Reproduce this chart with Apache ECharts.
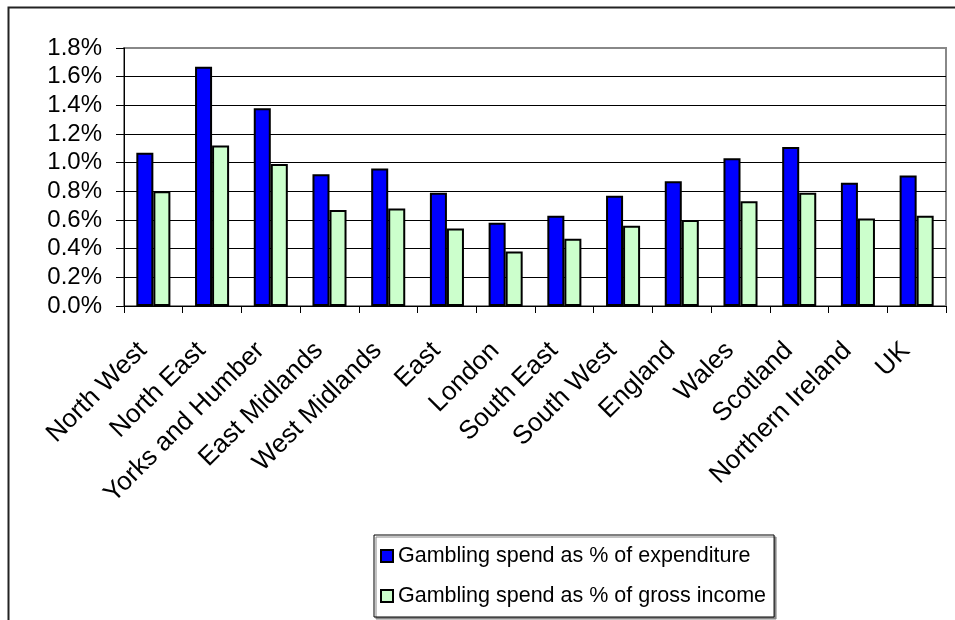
<!DOCTYPE html>
<html>
<head>
<meta charset="utf-8">
<script src="https://cdn.jsdelivr.net/npm/echarts@6/dist/echarts.min.js"></script>
<style>
html,body{margin:0;padding:0;background:#fff;}
#chart{width:955px;height:620px;}
</style>
</head>
<body>
<div id="chart"></div>
<script>
var categories = ["North West","North East","Yorks and Humber","East Midlands","West Midlands","East","London","South East","South West","England","Wales","Scotland","Northern Ireland","UK"];
var expenditure = [1.07,1.67,1.38,0.92,0.96,0.79,0.58,0.63,0.77,0.87,1.03,1.11,0.86,0.91];
var grossIncome = [0.80,1.12,0.99,0.67,0.68,0.54,0.38,0.47,0.56,0.60,0.73,0.79,0.61,0.63];
var seriesNames = ["Gambling spend as % of expenditure","Gambling spend as % of gross income"];

var FONT = "'Liberation Sans', Arial, sans-serif";
var chart = echarts.init(document.getElementById('chart'), null, {renderer:'canvas'});
chart.setOption({
  animation:false,
  backgroundColor:'#fff',
  textStyle:{fontFamily:FONT},
  graphic:[{
    type:'rect', left:6, top:5, z:-1,
    shape:{x:0,y:0,width:1000,height:700},
    style:{fill:'none', stroke:'#222', lineWidth:2}
  }],
  grid:{left:124, right:9, top:48, bottom:314, show:true, borderColor:'#888', borderWidth:2, backgroundColor:'transparent'},
  legend:{
    orient:'vertical', left:374, top:535,
    padding:[7,8,7,6], itemGap:12,
    itemWidth:12, itemHeight:12,
    borderColor:'#000', borderWidth:1,
    backgroundColor:'#fff', shadowColor:'#888', shadowOffsetX:2, shadowOffsetY:2, shadowBlur:0,
    textStyle:{fontSize:21.5, color:'#000', fontFamily:FONT, lineHeight:28},
    icon:'rect',
    data:seriesNames
  },
  xAxis:{
    type:'category', data:categories,
    axisLine:{lineStyle:{color:'#000', width:1}},
    axisTick:{show:true, length:7, interval:0, lineStyle:{color:'#000'}},
    axisLabel:{interval:0, rotate:45, margin:30, padding:[0,15,0,0], fontSize:26, color:'#000', fontFamily:FONT}
  },
  yAxis:{
    type:'value', min:0, max:1.8, interval:0.2,
    axisLine:{show:true, lineStyle:{color:'#000', width:1}},
    axisTick:{show:true, length:8, lineStyle:{color:'#000'}},
    axisLabel:{fontSize:24, color:'#000', margin:22, fontFamily:FONT,
      formatter:function(v){return v.toFixed(1)+'%';}},
    splitLine:{show:true, showMaxLine:false, lineStyle:{color:'#000', width:1}}
  },
  series:[
    {name:seriesNames[0], type:'bar', data:expenditure, barGap:'0%', barCategoryGap:'42%',
     itemStyle:{color:'#0000FF', borderColor:'#000', borderWidth:2}},
    {name:seriesNames[1], type:'bar', data:grossIncome, barGap:'0%', barCategoryGap:'42%',
     itemStyle:{color:'#CCFFCC', borderColor:'#000', borderWidth:2}}
  ]
});
</script>
</body>
</html>
